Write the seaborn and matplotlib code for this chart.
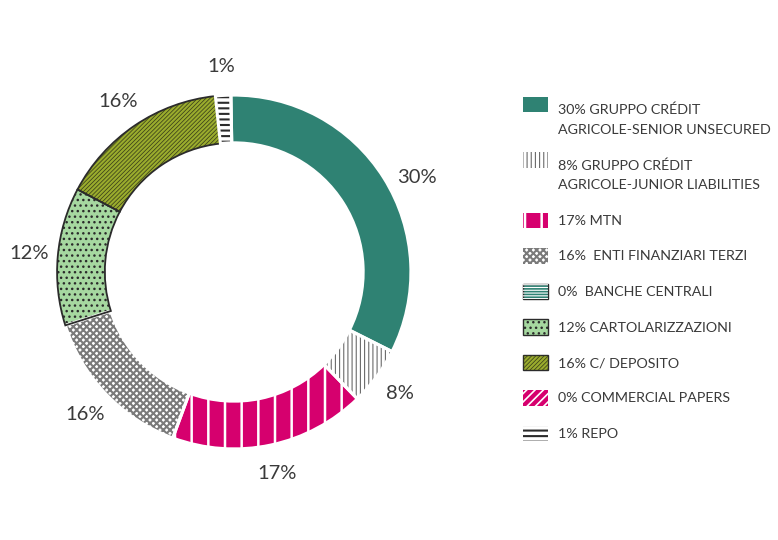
import matplotlib
matplotlib.use("Agg")
import matplotlib.pyplot as plt
from matplotlib.patches import Rectangle
import numpy as np
import seaborn as sns

sns.set_theme(style="white")
plt.rcParams["font.family"] = ["Lato", "DejaVu Sans"]
plt.rcParams["hatch.linewidth"] = 1.0

# dati (etichette come nella legenda)
labels = ["30% GRUPPO CRÉDIT\nAGRICOLE-SENIOR UNSECURED",
          "8% GRUPPO CRÉDIT\nAGRICOLE-JUNIOR LIABILITIES",
          "17% MTN",
          "16%  ENTI FINANZIARI TERZI",
          "0%  BANCHE CENTRALI",
          "12% CARTOLARIZZAZIONI",
          "16% C/ DEPOSITO",
          "0% COMMERCIAL PAPERS",
          "1% REPO"]
values = [30, 8, 17, 16, 0, 12, 16, 0, 1]
# ampiezza degli archi come disegnati nel grafico (non esattamente = etichette)
arc_shares = [32.7, 5.3, 17.9, 14.5, 0, 12.6, 15.6, 0, 1.4]

TEAL, MAGENTA, OLIVE, LGREEN, DARK = "#2F8273", "#D6006E", "#9AAC2D", "#A6D8A0", "#2b2b2b"
face_colors = [TEAL, "white", MAGENTA, "white", TEAL, LGREEN, OLIVE, MAGENTA, "white"]
hatch_colors = [TEAL, "#6a6a6a", "white", "#7a7a7a", "white", DARK, "#3a3f1a", "white", DARK]
hatches = [None, "||||", "|", "xxxxx", "------", "...", "////////", "////", "---"]
hatch_lw = [1.0, 0.8, 1.8, 1.5, 0.8, 1.0, 0.55, 1.2, 1.5]
outlined = [False, False, False, False, True, True, True, False, False]


def set_hlw(p, lw):
    if hasattr(p, "set_hatch_linewidth"):
        p.set_hatch_linewidth(lw)


fig = plt.figure(figsize=(7.78, 5.40), dpi=100)
W, H = 778, 540
ax = fig.add_axes([4 / W, 38 / H, 460 / W, 460 / H])

idx = [i for i, v in enumerate(arc_shares) if v > 0]
vals = [arc_shares[i] for i in idx]

wedges = ax.pie(vals, colors=[face_colors[i] for i in idx],
                hatch=[hatches[i] if hatches[i] else "" for i in idx],
                startangle=91, counterclock=False, radius=1,
                wedgeprops=dict(width=0.27, linewidth=0))[0]
for w, i in zip(wedges, idx):
    w.set_edgecolor(hatch_colors[i])
    w.set_linewidth(0)
    set_hlw(w, hatch_lw[i])

# bordi bianchi / scuri
edges = ax.pie(vals, colors=["none"] * len(vals), startangle=91, counterclock=False,
               radius=1, wedgeprops=dict(width=0.27, linewidth=2.2, edgecolor="white"))[0]
for w, i in zip(edges, idx):
    if outlined[i]:
        w.set_edgecolor(DARK)
        w.set_linewidth(1.3)

# etichette percentuali (la prima un po' spostata in basso come nell'originale)
label_shift = {0: 5.0}
for w, i in zip(wedges, idx):
    mid = np.deg2rad((w.theta1 + w.theta2) / 2 - label_shift.get(i, 0))
    ax.text(1.165 * np.cos(mid), 1.165 * np.sin(mid), f"{values[i]}%",
            ha="center", va="center", fontsize=14.5, color="#3a3a3a")

ax.set_xlim(-1.3, 1.3)
ax.set_ylim(-1.3, 1.3)
ax.set_aspect("equal")
ax.axis("off")

# legenda
base = 114
for i, lab in enumerate(labels):
    lines = lab.split("\n")
    pc = base - (9.5 if len(lines) > 1 else 4.5)
    ec = DARK if outlined[i] else "none"
    r0 = (523 / W, 1 - (pc + 7.75) / H)
    fig.add_artist(Rectangle(r0, 25 / W, 15.5 / H, transform=fig.transFigure,
                             facecolor=face_colors[i], edgecolor=ec, linewidth=1.0))
    if hatches[i]:
        hp = Rectangle(r0, 25 / W, 15.5 / H, transform=fig.transFigure,
                       facecolor="none", edgecolor=hatch_colors[i], linewidth=0,
                       hatch=hatches[i])
        set_hlw(hp, hatch_lw[i])
        fig.add_artist(hp)
    for line in lines:
        fig.text(558 / W, 1 - base / H, line, ha="left", va="baseline",
                 fontsize=10.3, color="#3a3a3a")
        base += 20
    base += 15.5

fig.savefig("out.png", dpi=100, facecolor="white")
